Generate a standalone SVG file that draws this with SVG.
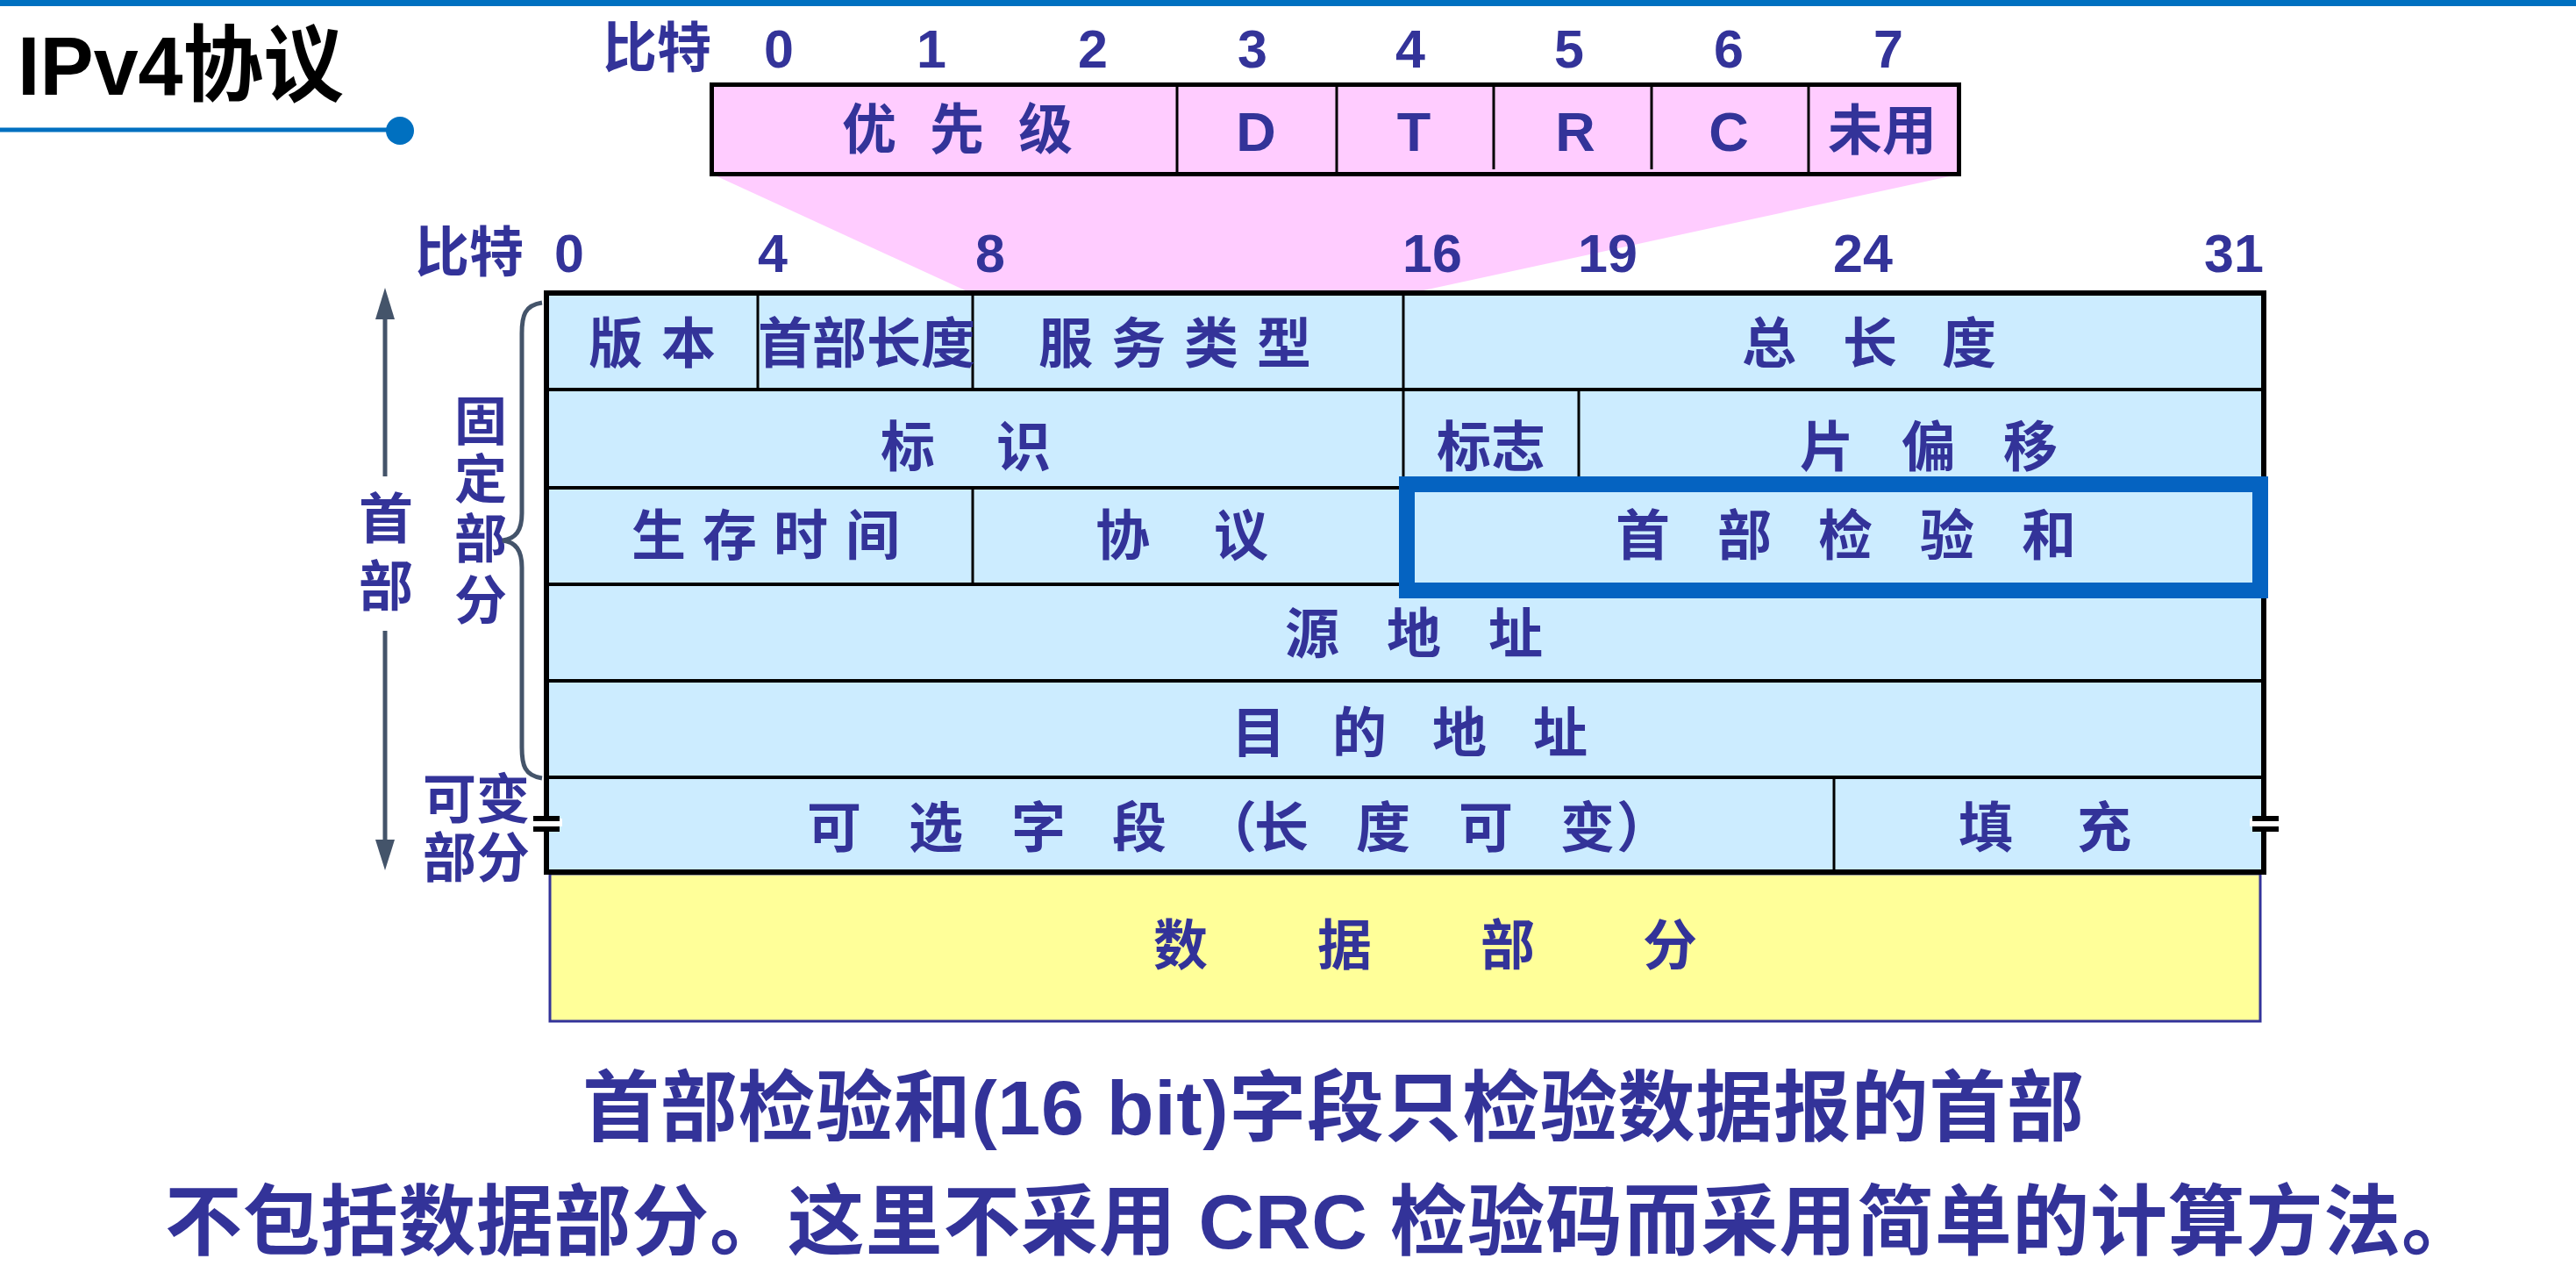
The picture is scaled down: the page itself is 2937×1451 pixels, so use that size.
<svg xmlns="http://www.w3.org/2000/svg" width="2937" height="1451" viewBox="0 0 2937 1451">
<style>
.t{font-family:"Liberation Sans","Noto Sans CJK SC",sans-serif;font-weight:bold;fill:#333399}
.c{font-size:62px}
.n{font-size:61px;text-anchor:middle}
.lat{font-size:63px;text-anchor:middle}
.cell{fill:#CCECFF;stroke:none}
.ln{stroke:#000;stroke-width:4;fill:none}
.th{stroke:#000;stroke-width:3;fill:none}
.gr{stroke:#44546A;stroke-width:5;fill:none}
</style>
<defs>
<g id="brk"><rect x="-18" y="-6" width="36" height="9" fill="#fff"/><rect x="-15" y="-9" width="30" height="6" fill="#000"/><rect x="-15" y="3" width="30" height="6" fill="#000"/></g>
</defs>
<rect x="0" y="0" width="2937" height="7" fill="#0070C0"/>
<g id="title">
<text x="20" y="108" textLength="372" lengthAdjust="spacingAndGlyphs" style="font-family:'Liberation Sans','Noto Sans CJK SC',sans-serif;font-weight:bold;font-size:95px;fill:#000">IPv4协议</text>
<line x1="0" y1="148" x2="456" y2="148" stroke="#0070C0" stroke-width="5"/>
<circle cx="456" cy="149" r="16" fill="#0070C0"/>
</g>
<g id="tos-fan"><polygon points="813,199 2232,199 1609,334 1107,334" fill="#FFCCFF"/></g>
<g id="tos">
<rect x="811.5" y="96.5" width="1422" height="102" fill="#FFCCFF" stroke="#000" stroke-width="5"/>
<path class="th" d="M1342 99V199M1524 99V199M1703 99V193M1883 99V193M2062 99V199"/>
<text class="t c" y="170" x="960 1060 1161">优先级</text>
<text class="t lat" x="1432" y="172">D</text>
<text class="t lat" x="1612" y="172">T</text>
<text class="t lat" x="1796" y="172">R</text>
<text class="t lat" x="1971" y="172">C</text>
<text class="t c" x="2146" y="171" text-anchor="middle">未用</text>
</g>
<g id="tos-bits">
<text class="t c" x="687" y="77">比特</text>
<text class="t n" y="77" x="888">0</text><text class="t n" y="77" x="1062">1</text><text class="t n" y="77" x="1246">2</text><text class="t n" y="77" x="1428">3</text><text class="t n" y="77" x="1608">4</text><text class="t n" y="77" x="1789">5</text><text class="t n" y="77" x="1971">6</text><text class="t n" y="77" x="2153">7</text>
</g>
<g id="hdr-bits">
<text class="t c" x="473" y="310">比特</text>
<text class="t n" y="310" x="649">0</text><text class="t n" y="310" x="881">4</text><text class="t n" y="310" x="1129">8</text><text class="t n" y="310" x="1633">16</text><text class="t n" y="310" x="1833">19</text><text class="t n" y="310" x="2124">24</text><text class="t n" y="310" x="2547">31</text>
</g>
<g id="data">
<rect x="627" y="996" width="1950" height="168" fill="#FFFF99" stroke="#333399" stroke-width="3"/>
<text class="t c" y="1100" x="1315 1502 1688 1873">数据部分</text>
</g>
<g id="header">
<rect class="cell" x="623" y="334" width="1958" height="660"/>
<path class="ln" d="M623 444H2581M623 556H2581M623 666H2581M623 776H2581M623 886H2581"/>
<path class="th" d="M864 334V444M1109 334V444M1600 334V556M1800 444V556M1109 556V666M2091 886V994"/>
<rect x="623" y="334" width="1958" height="660" fill="none" stroke="#000" stroke-width="6"/>
</g>
<g id="f-version"><text class="t c" y="414" x="671 754">版本</text></g>
<g id="f-ihl"><text class="t c" y="414" x="988" text-anchor="middle">首部长度</text></g>
<g id="f-tos"><text class="t c" y="414" x="1184 1267 1350 1433">服务类型</text></g>
<g id="f-len"><text class="t c" y="414" x="1986 2101 2214">总长度</text></g>
<g id="f-id"><text class="t c" y="532" x="1004 1136">标识</text></g>
<g id="f-flags"><text class="t c" y="532" x="1700" text-anchor="middle">标志</text></g>
<g id="f-frag"><text class="t c" y="532" x="2052 2168 2284">片偏移</text></g>
<g id="f-ttl"><text class="t c" y="633" x="720 801 882 964">生存时间</text></g>
<g id="f-proto"><text class="t c" y="633" x="1249 1384">协议</text></g>
<g id="f-csum">
<rect x="1604" y="552" width="973" height="121" fill="none" stroke="#0563C1" stroke-width="18"/>
<text class="t c" y="633" x="1842 1958 2073 2189 2305">首部检验和</text>
</g>
<g id="f-src"><text class="t c" y="745" x="1465 1581 1697">源地址</text></g>
<g id="f-dst"><text class="t c" y="858" x="1404 1519 1633 1748">目的地址</text></g>
<g id="f-opt"><text class="t c" y="966" x="920 1036 1153 1268 1371 1430 1546 1663 1779 1843">可选字段（长度可变）</text></g>
<g id="f-pad"><text class="t c" y="966" x="2233 2368">填充</text></g>
<g id="breaks"><use href="#brk" x="623" y="939"/><use href="#brk" x="2583" y="939"/></g>
<g id="labels">
<text class="t c" x="440" y="614" text-anchor="middle">首</text>
<text class="t c" x="440" y="691" text-anchor="middle">部</text>
<text class="t" style="font-size:60px" x="548" y="502" text-anchor="middle">固</text>
<text class="t" style="font-size:60px" x="548" y="568" text-anchor="middle">定</text>
<text class="t" style="font-size:60px" x="548" y="636" text-anchor="middle">部</text>
<text class="t" style="font-size:60px" x="548" y="706" text-anchor="middle">分</text>
<text class="t" style="font-size:61px" x="543" y="933" text-anchor="middle">可变</text>
<text class="t" style="font-size:61px" x="543" y="1000" text-anchor="middle">部分</text>
</g>
<g id="connectors">
<path class="gr" d="M618 345C598 348 595 360 595 380V585C595 605 588 614 573 616C588 618 595 627 595 647V852C595 872 598 884 618 887"/>
<line class="gr" x1="439" y1="362" x2="439" y2="543"/>
<polygon points="439,328 428,364 450,364" fill="#44546A"/>
<line class="gr" x1="439" y1="719" x2="439" y2="959"/>
<polygon points="439,992 428,957 450,957" fill="#44546A"/>
</g>
<g id="note">
<text class="t" style="font-size:88px" x="664" y="1293" textLength="1712" lengthAdjust="spacing">首部检验和(16 bit)字段只检验数据报的首部</text>
<text class="t" style="font-size:88px" x="188" y="1423" textLength="2638" lengthAdjust="spacing">不包括数据部分。这里不采用 CRC 检验码而采用简单的计算方法。</text>
</g>
</svg>
